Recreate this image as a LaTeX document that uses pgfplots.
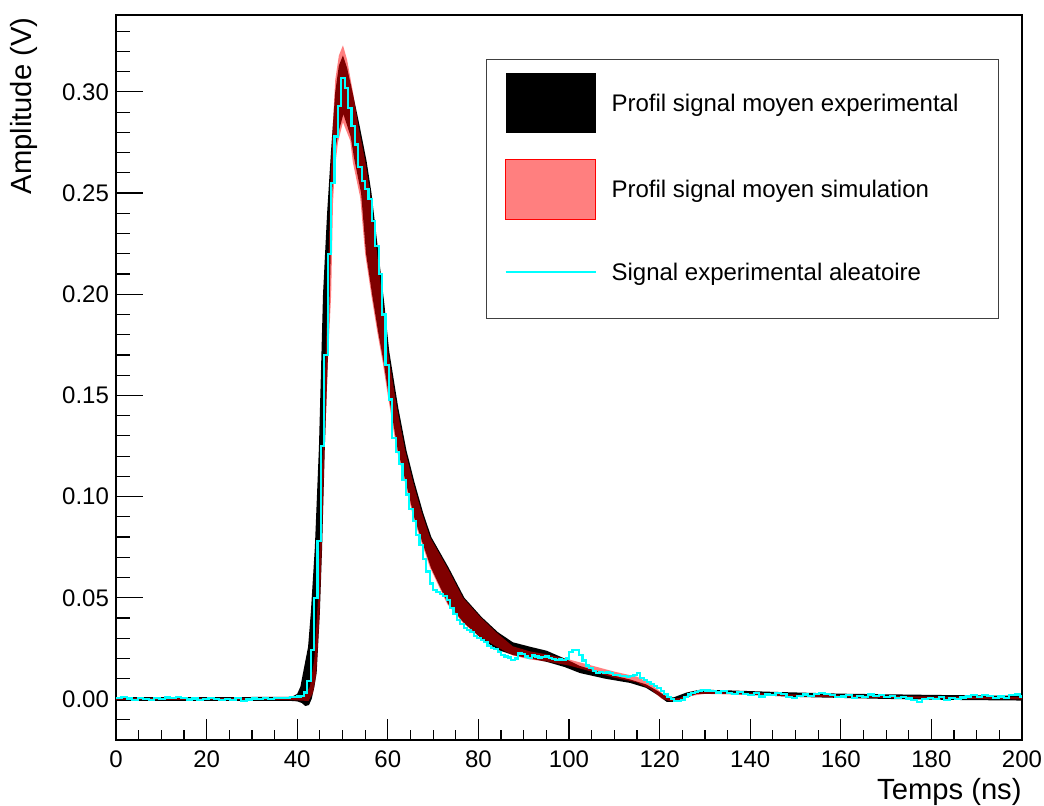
\documentclass[border=0pt]{standalone}
\usepackage{fontspec}
\setmainfont{Liberation Sans}
\usepackage{pgfplots}
\pgfplotsset{compat=1.18}
\definecolor{rootcyan}{RGB}{0,255,255}
\begin{document}
\begin{tikzpicture}
\begin{axis}[
  name=ax, scale only axis, width=453pt, height=362.5pt,
  xmin=0, xmax=200, ymin=-0.0203, ymax=0.338,
  xtick={0,20,...,200}, ytick={0,0.05,0.1,0.15,0.2,0.25,0.3},
  minor x tick num=3,
  minor ytick={-0.01,0.01,0.02,0.03,0.04,0.06,0.07,0.08,0.09,0.11,0.12,0.13,0.14,0.16,0.17,0.18,0.19,0.21,0.22,0.23,0.24,0.26,0.27,0.28,0.29,0.31,0.32,0.33},
  tick pos=left, tick align=inside,
  axis line style={black, line width=0.6pt},
  tick style={black, line width=0.6pt},
  every x tick/.append style={/pgfplots/major tick length=10.5pt,/pgfplots/minor tick length=5.2pt},
  every y tick/.append style={/pgfplots/major tick length=13.5pt,/pgfplots/minor tick length=6.8pt},
  scaled y ticks=false,
  /pgf/number format/assume math mode=true,
  ticklabel style={font=\fontsize{12}{14}\selectfont},
  xticklabel style={yshift=-2pt},
  yticklabel style={/pgf/number format/.cd, fixed, fixed zerofill, precision=2},
  xlabel={Temps (ns)},
  xlabel style={at={(axis description cs:1,-0.0814)}, anchor=base east, inner sep=0pt, font=\fontsize{14.6}{17}\selectfont},
  ylabel={Amplitude (V)},
  ylabel style={at={(axis description cs:-0.0861,0.997)}, anchor=south east, inner sep=0pt, font=\fontsize{14.6}{17}\selectfont},
  legend cell align=left,
  legend style={at={(rel axis cs:0.4084,0.9393)}, anchor=north west, draw=black!75, line width=0.6pt, fill=white,
    inner xsep=9pt, inner ysep=6.5pt, row sep=13pt, column sep=7.5pt,
    font=\fontsize{12}{14}\selectfont, nodes={inner sep=0pt}},
]
% experimental mean band (upper boundary left->right, lower boundary right->left)
\addplot[draw=none, fill=black,
  legend image code/.code={\fill[black] (0pt,-14.3pt) rectangle (45pt,15.7pt);}]
coordinates {
(0,0.0009) (20,0.0009) (38,0.0010) (39.2,0.0015) (40.0,0.0025) (40.7,0.006) (41.3,0.013) (42.4,0.0257) (43.0,0.0425) (43.9,0.075) (44.8,0.1245) (45.7,0.200) (46.6,0.240) (47.5,0.272) (48.4,0.300) (49.2,0.313) (50.1,0.318) (51.0,0.312) (52.4,0.298) (53.8,0.283) (55.3,0.266) (56.4,0.250) (58.1,0.217) (59.2,0.196) (60.3,0.172) (62.3,0.144) (64.1,0.123) (65.9,0.107) (67.8,0.092) (69.6,0.080) (73.4,0.065) (76.9,0.050) (80.7,0.0405) (84.3,0.0330) (87.6,0.0280) (91.4,0.0258) (95.1,0.0238) (99.0,0.0200) (102.4,0.0163) (108,0.0125) (113.5,0.0096) (117,0.0072) (119.5,0.0040) (121.5,0.0012) (123,0.0007) (126,0.0032) (129,0.0046) (135.5,0.0042) (145,0.0035) (160,0.0026) (180,0.0020) (200,0.0015)
(200,-0.0008) (185,-0.0005) (170,0.0000) (150,0.0010) (135,0.0025) (128.3,0.0025) (125,0.0000) (123,-0.0015) (121.6,-0.0015) (119.5,0.0020) (117,0.0055) (113.5,0.0079) (108,0.0100) (102.4,0.0128) (99.0,0.0158) (95.1,0.0183) (91.4,0.0200) (87.6,0.0217) (84.0,0.0245) (80.6,0.0300) (76.8,0.0376) (73.3,0.0470) (69.5,0.0650) (67.7,0.0770) (65.8,0.0900) (64.0,0.1070) (62.2,0.1230) (60.2,0.1500) (59.1,0.1660) (57.9,0.1810) (56.6,0.1990) (55.2,0.2200) (54.1,0.2500) (52.5,0.2680) (51.8,0.2780) (50.2,0.2890) (49.1,0.2800) (48.3,0.2700) (47.7,0.2500) (47.2,0.2000) (46.8,0.1700) (46.1,0.1245) (45.5,0.0750) (45.0,0.0425) (44.3,0.0130) (43.8,0.0060) (43.2,0.0000) (42.6,-0.0030) (41.8,-0.0035) (41.0,-0.0020) (40,-0.0012) (38,-0.0009) (0,-0.0009)
};
\addlegendentry{Profil signal moyen experimental\hspace*{11pt}}
% simulation mean band
\addplot[draw=none, fill=red, fill opacity=0.5,
  legend image code/.code={\draw[red, line width=0.5pt, fill=red, fill opacity=0.5] (0pt,-14.3pt) rectangle (45pt,15.7pt);}]
coordinates {
(0,0.0005) (38,0.0005) (41.5,0.0010) (42.8,0.0060) (43.8,0.020) (44.6,0.050) (45.3,0.100) (46.0,0.150) (46.7,0.200) (47.3,0.250) (47.8,0.281) (48.4,0.306) (49.2,0.318) (50.1,0.323) (51.0,0.316) (52.3,0.300) (53.5,0.283) (55.0,0.266) (56.1,0.250) (57.8,0.217) (58.9,0.196) (60.0,0.172) (62.0,0.144) (63.8,0.123) (65.6,0.107) (67.5,0.092) (69.3,0.080) (73.1,0.065) (76.6,0.050) (80.4,0.0405) (84.1,0.0326) (87.6,0.0260) (91.4,0.0235) (95.1,0.0220) (100,0.0195) (105,0.0165) (110,0.0135) (115,0.0110) (118,0.0075) (120.5,0.0030) (122.5,0.0000) (124.5,0.0005) (127,0.0028) (130,0.0035) (140,0.0030) (150,0.0022) (160,0.0018) (170,0.0015) (180,0.0012) (190,0.0011) (200,0.0010)
(200,-0.0002) (190,0.0000) (180,0.0002) (170,0.0005) (160,0.0008) (150,0.0012) (140,0.0020) (130,0.0025) (127,0.0015) (124.5,-0.0008) (122.5,-0.0012) (120.5,0.0000) (118,0.0048) (115,0.0082) (110,0.0105) (105,0.0135) (100,0.0165) (95.1,0.0185) (91.4,0.0195) (87.6,0.0215) (84.1,0.0257) (80.4,0.0306) (76.6,0.0376) (73.1,0.0470) (69.3,0.0650) (67.5,0.0770) (65.6,0.0900) (63.8,0.1070) (62.0,0.1230) (60.0,0.1500) (58.9,0.1660) (57.7,0.1810) (56.4,0.1990) (55.0,0.2200) (53.9,0.2480) (52.3,0.2650) (51.7,0.2760) (50.1,0.2850) (49.0,0.2750) (48.3,0.2620) (47.9,0.2450) (47.5,0.2000) (46.8,0.1680) (46.0,0.1200) (45.4,0.0720) (44.9,0.0400) (44.2,0.0120) (43.5,0.0030) (42.5,-0.0010) (38,-0.0005) (0,-0.0005)
};
\addlegendentry{Profil signal moyen simulation}
% random experimental signal
\addplot[rootcyan, line width=1.1pt, const plot,
  legend image code/.code={\path[draw=none,fill=none] (0pt,-16.3pt) rectangle (45pt,13.7pt); \draw[rootcyan, line width=1pt] (0pt,0.7pt) -- (45pt,0.7pt);}]
table {
0 0.0003
1.2 0.0008
2.4 0.0002
3.6 -0.0004
4.8 0.0006
6.0 0.0001
7.2 -0.0006
8.4 0.0004
9.6 0.0000
10.8 0.0007
12.0 0.0003
13.2 0.0010
14.4 0.0004
15.6 -0.0003
16.8 0.0002
18.0 -0.0006
19.2 0.0001
20.4 0.0005
21.6 -0.0002
22.8 -0.0007
24.0 0.0001
25.2 -0.0004
26.4 0.0003
27.6 -0.0009
28.8 -0.0003
30.0 0.0002
31.2 -0.0002
32.4 0.0004
33.6 0.0001
34.8 0.0006
36.0 0.0003
37.2 0.0005
38.4 0.0008
39.25 0.0010
40.0 0.0012
40.75 0.0016
41.5 0.0032
42.25 0.0090
43.0 0.0240
43.75 0.0500
44.5 0.0780
45.25 0.1250
46.0 0.1700
46.75 0.2200
47.5 0.2550
48.25 0.2780
49.0 0.2930
49.75 0.3070
50.5 0.3020
51.25 0.2920
52.0 0.2830
52.75 0.2740
53.5 0.2630
54.25 0.2560
55.0 0.2520
55.75 0.2470
56.5 0.2360
57.25 0.2240
58.0 0.2100
58.75 0.1900
59.5 0.1650
60.25 0.1480
61.0 0.1290
61.75 0.1220
62.5 0.1160
63.25 0.1080
64.0 0.1010
64.75 0.0940
65.5 0.0880
66.25 0.0810
67.0 0.0760
67.75 0.0690
68.5 0.0630
69.25 0.0570
70.0 0.0540
70.75 0.0530
71.5 0.0520
72.25 0.0510
73.0 0.0490
73.75 0.0450
74.5 0.0420
75.25 0.0390
76.0 0.0370
76.75 0.0350
77.5 0.0340
78.25 0.0330
79.0 0.0310
79.75 0.0300
80.5 0.0290
81.25 0.0280
82.0 0.0260
82.75 0.0250
83.5 0.0245
84.25 0.0230
85.0 0.0217
85.75 0.0210
86.5 0.0205
87.25 0.0193
88.0 0.0200
88.75 0.0225
89.5 0.0222
90.25 0.0210
91.0 0.0203
91.75 0.0215
92.5 0.0210
93.25 0.0205
94.0 0.0208
94.75 0.0210
95.5 0.0203
96.25 0.0198
97.0 0.0193
97.75 0.0195
98.5 0.0193
99.25 0.0200
100.0 0.0232
100.75 0.0240
101.5 0.0242
102.25 0.0217
103.0 0.0190
103.75 0.0165
104.5 0.0152
105.25 0.0140
106.0 0.0129
106.75 0.0135
107.5 0.0128
108.25 0.0131
109.0 0.0129
109.75 0.0120
110.5 0.0118
111.25 0.0112
112.0 0.0115
112.75 0.0109
113.5 0.0112
114.25 0.0118
115.0 0.0129
115.75 0.0105
116.5 0.0094
117.25 0.0085
118.0 0.0075
118.75 0.0062
119.5 0.0054
120.25 0.0040
121.0 0.0025
121.75 0.0010
122.5 0.0000
123.25 -0.0010
124.0 -0.0012
124.75 -0.0005
125.5 0.0010
126.25 0.0022
127.0 0.0030
127.75 0.0035
128.5 0.0040
129.25 0.0044
130.0 0.0042
131.2 0.0038
132.4 0.0032
133.6 0.0040
134.8 0.0030
136.0 0.0026
137.2 0.0034
138.4 0.0024
139.6 0.0020
140.8 0.0028
142.0 0.0012
143.2 0.0022
144.4 0.0018
145.6 0.0030
146.8 0.0024
148.0 0.0010
149.2 0.0005
150.4 0.0016
151.6 0.0022
152.8 0.0014
154.0 0.0026
155.2 0.0030
156.4 0.0025
157.6 0.0018
158.8 0.0008
160.0 0.0012
161.2 0.0020
162.4 0.0006
163.6 0.0015
164.8 0.0010
166.0 0.0022
167.2 0.0016
168.4 0.0021
169.6 0.0008
170.8 0.0013
172.0 0.0004
173.2 0.0010
174.4 0.0002
175.6 -0.0004
176.8 -0.0015
178.0 -0.0002
179.2 0.0006
180.4 0.0000
181.6 0.0008
182.8 -0.0005
184.0 0.0004
185.2 0.0001
186.4 0.0007
187.6 0.0012
188.8 0.0018
190.0 0.0010
191.2 0.0020
192.4 0.0014
193.6 0.0006
194.8 0.0012
196.0 0.0003
197.2 0.0018
198.4 0.0022
199.6 0.0012
200.0 0.0012
};
\addlegendentry{Signal experimental aleatoire}
\end{axis}
\path (ax.south west) ++(-58pt,-32.5pt) coordinate (bl);
\path (ax.north east) ++(11pt,7.5pt) coordinate (tr);
\pgfresetboundingbox
\useasboundingbox (bl) rectangle (tr);
\end{tikzpicture}
\end{document}
